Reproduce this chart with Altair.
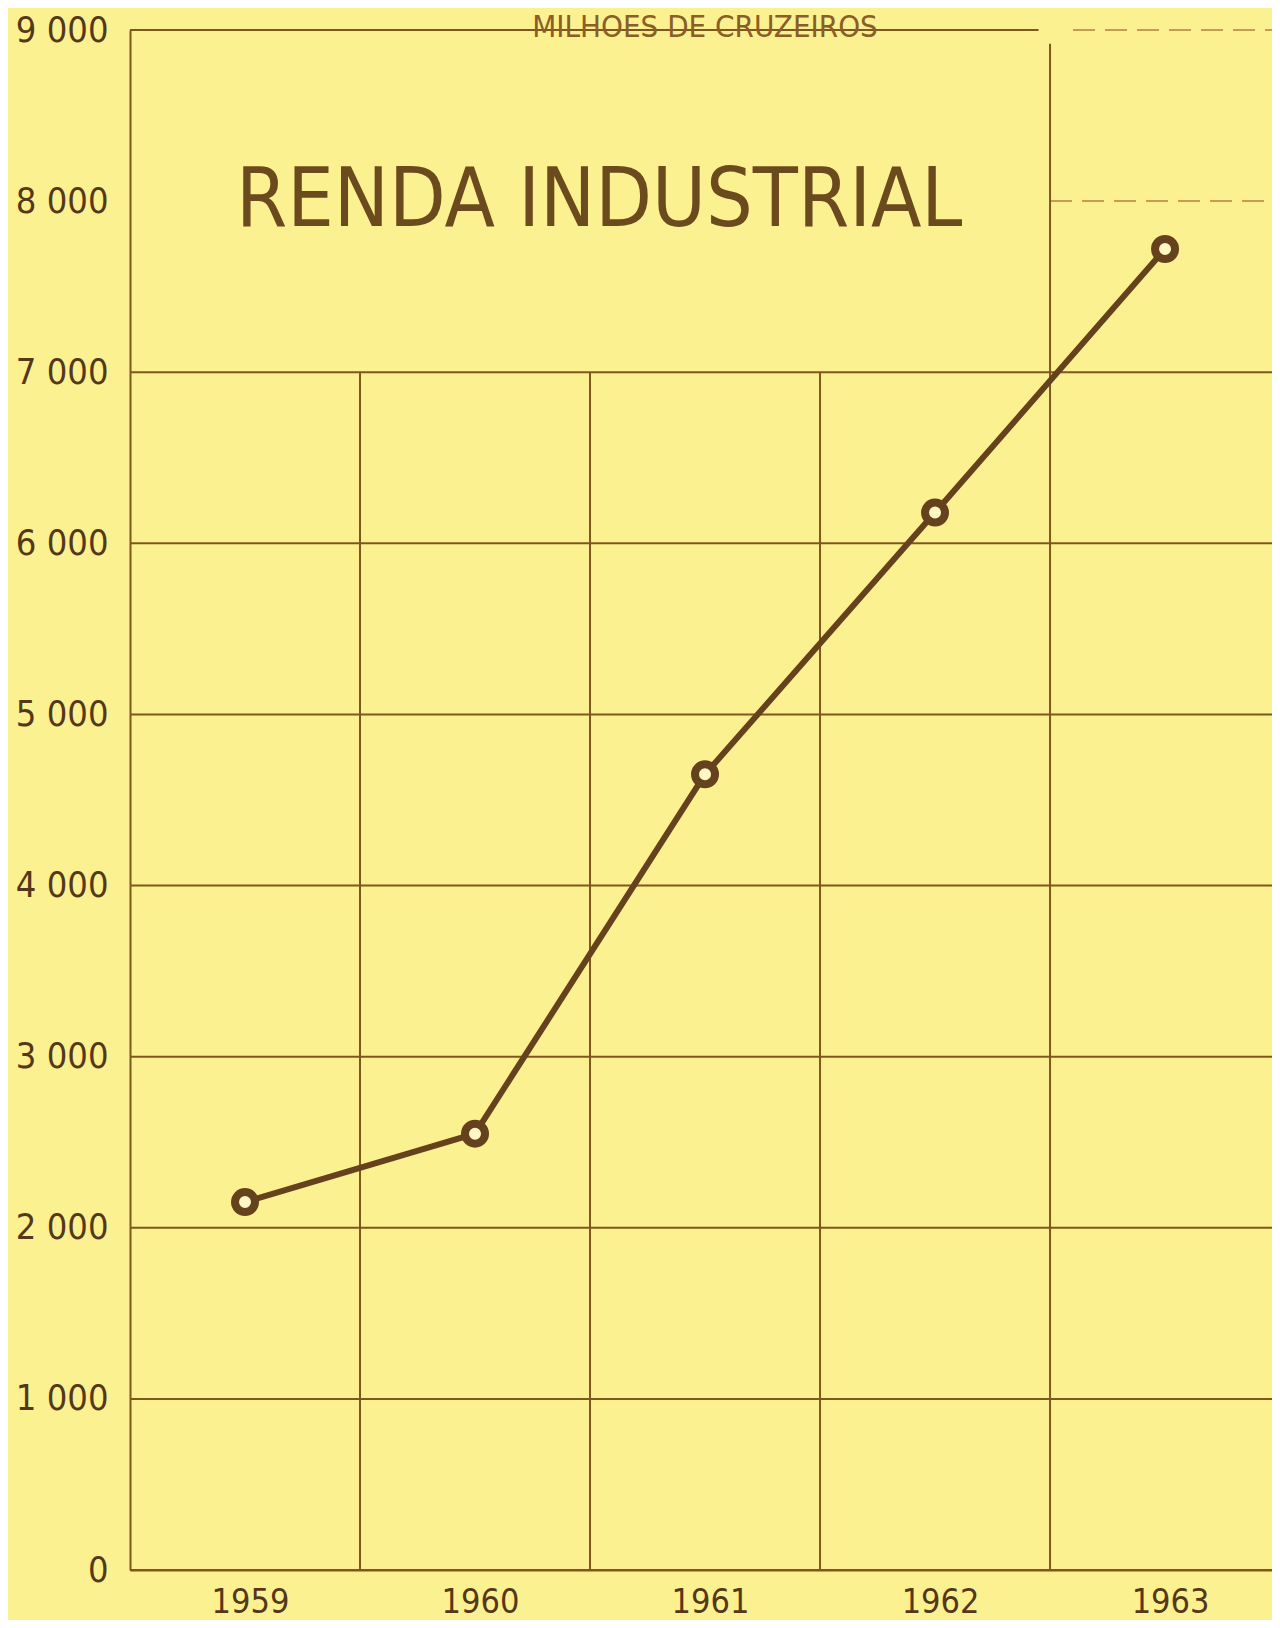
import altair as alt
import pandas as pd

# ---- data ----
years = [1959, 1960, 1961, 1962, 1963]
renda = [2150, 2550, 4650, 6180, 7720]          # milhões de cruzeiros
y_ticks = [0, 1000, 2000, 3000, 4000, 5000, 6000, 7000, 8000, 9000]
x_ticks = [1959, 1960, 1961, 1962, 1963]

# grid structure of the hand-drawn chart
h_full = [0, 1000, 2000, 3000, 4000, 5000, 6000, 7000]
v_low = [1959.5, 1960.5, 1961.5]
v_tall = [1962.5]

title_text = "RENDA INDUSTRIAL"
unit_text = "MILHOES DE CRUZEIROS"

X_MIN, X_MAX = 1958.5, 1963.465
Y_MIN, Y_MAX = 0, 9000

FONT = "Liberation Sans Narrow, DejaVu Sans Condensed, Liberation Sans, sans-serif"
BG = "#fcf190"
GRID = "#80561f"
GRID_LIGHT = "#c79a55"
INK = "#65421d"
TEXT = "#553719"

xs = alt.Scale(domain=[X_MIN, X_MAX], nice=False, zero=False)
ys = alt.Scale(domain=[Y_MIN, Y_MAX], nice=False, zero=False)

df = pd.DataFrame({"year": years, "renda": renda})

# horizontal grid rules
hdf = pd.DataFrame({"y": h_full, "x1": [X_MIN] * len(h_full), "x2": [X_MAX] * len(h_full)})
top_df = pd.DataFrame({"y": [9000], "x1": [X_MIN], "x2": [1962.45]})
dash_df = pd.DataFrame({"y": [9000, 8000], "x1": [1962.6, 1962.5], "x2": [X_MAX, X_MAX]})

# vertical grid rules
vdf = pd.DataFrame({
    "x": v_low + v_tall,
    "y1": [0] * (len(v_low) + len(v_tall)),
    "y2": [7000] * len(v_low) + [8920] * len(v_tall),
})

base_x_axis = alt.Axis(
    values=x_ticks, format="d", title=None, grid=False, ticks=False,
    domain=True, domainColor=GRID, domainWidth=2,
    labelFont=FONT, labelFontSize=34, labelColor=TEXT, labelPadding=15,
    labelOffset=5,
)
base_y_axis = alt.Axis(
    values=y_ticks, title=None, grid=False, ticks=False,
    domain=True, domainColor=GRID, domainWidth=2,
    labelExpr="replace(format(datum.value, ','), ',', ' ')",
    labelFont=FONT, labelFontSize=36, labelColor=TEXT, labelPadding=22,
    labelOffset=0,
)

hrules = alt.Chart(hdf).mark_rule(color=GRID, strokeWidth=2).encode(
    x=alt.X("x1:Q", scale=xs, axis=base_x_axis),
    x2="x2:Q",
    y=alt.Y("y:Q", scale=ys, axis=base_y_axis),
)
toprule = alt.Chart(top_df).mark_rule(color=GRID, strokeWidth=2).encode(
    x=alt.X("x1:Q", scale=xs), x2="x2:Q", y=alt.Y("y:Q", scale=ys)
)
dashrules = alt.Chart(dash_df).mark_rule(color=GRID_LIGHT, strokeWidth=2, strokeDash=[22, 10]).encode(
    x=alt.X("x1:Q", scale=xs), x2="x2:Q", y=alt.Y("y:Q", scale=ys)
)
vrules = alt.Chart(vdf).mark_rule(color=GRID, strokeWidth=2).encode(
    x=alt.X("x:Q", scale=xs), y=alt.Y("y1:Q", scale=ys), y2="y2:Q"
)

line = alt.Chart(df).mark_line(color=INK, strokeWidth=6).encode(
    x=alt.X("year:Q", scale=xs), y=alt.Y("renda:Q", scale=ys)
)
points = alt.Chart(df).mark_point(
    shape="circle", size=400, filled=False, fill="#fff7c4", fillOpacity=1,
    stroke=INK, strokeWidth=8, opacity=1,
).encode(x=alt.X("year:Q", scale=xs), y=alt.Y("renda:Q", scale=ys))

title_mark = alt.Chart(pd.DataFrame({"t": [title_text]})).mark_text(
    font=FONT, fontSize=82, color="#6b4a1e", align="left", baseline="alphabetic"
).encode(x=alt.value(106), y=alt.value(196), text="t:N")

unit_mark = alt.Chart(pd.DataFrame({"t": [unit_text]})).mark_text(
    font=FONT, fontSize=31, color="#8a5e26", align="center", baseline="alphabetic"
).encode(x=alt.value(575), y=alt.value(7), text="t:N")

chart = alt.layer(
    hrules, toprule, dashrules, vrules, line, points, title_mark, unit_mark
).properties(
    width=1142,
    height=1540,
    background=BG,
    padding={"left": 122, "top": 22, "right": 0, "bottom": 50},
    autosize=alt.AutoSizeParams(type="none"),
).configure_view(stroke=None)

chart.save("out.html", embed_options={"renderer": "svg", "actions": False})
